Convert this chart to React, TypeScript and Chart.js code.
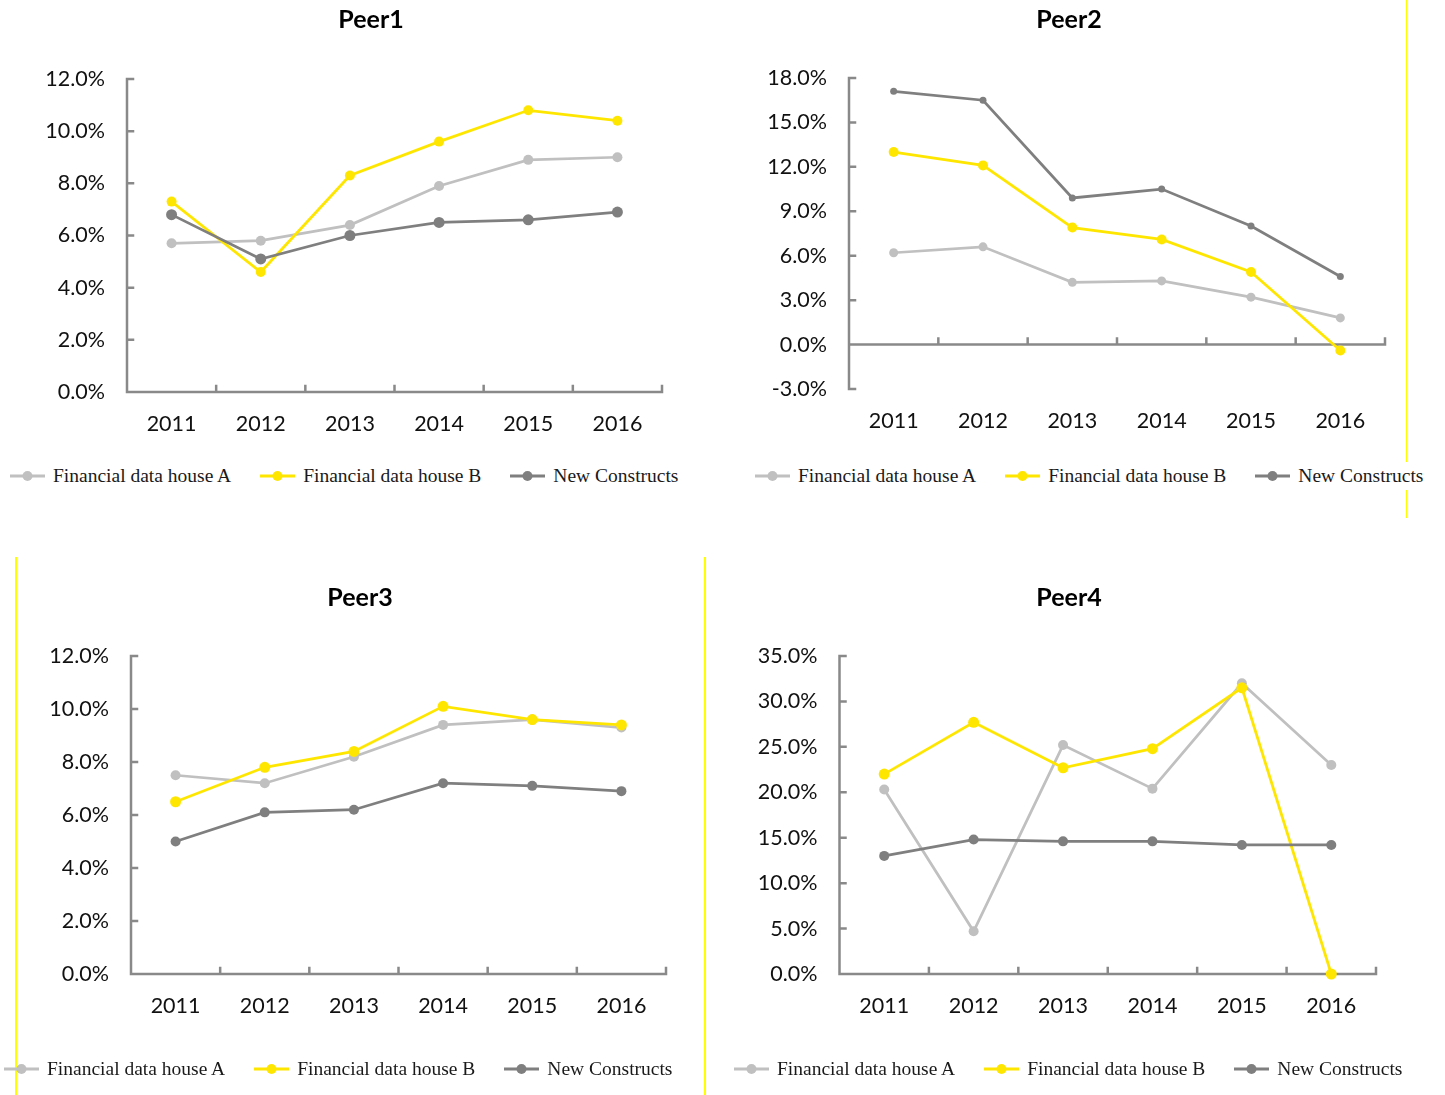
import React, { useEffect, useRef } from 'react';
import { Chart, registerables } from 'chart.js';

Chart.register(...registerables);

// ---------- data ----------
const YEARS = ['2011', '2012', '2013', '2014', '2015', '2016'];
const SERIES_NAMES = ['Financial data house A', 'Financial data house B', 'New Constructs'];
const SERIES_COLORS = ['#C0C0C0', '#FFE600', '#7F7F7F'];

const PEER1_A = [5.7, 5.8, 6.4, 7.9, 8.9, 9.0];
const PEER1_B = [7.3, 4.6, 8.3, 9.6, 10.8, 10.4];
const PEER1_NC = [6.8, 5.1, 6.0, 6.5, 6.6, 6.9];

const PEER2_A = [6.2, 6.6, 4.2, 4.3, 3.2, 1.8];
const PEER2_B = [13.0, 12.1, 7.9, 7.1, 4.9, -0.4];
const PEER2_NC = [17.1, 16.5, 9.9, 10.5, 8.0, 4.6];

const PEER3_A = [7.5, 7.2, 8.2, 9.4, 9.6, 9.3];
const PEER3_B = [6.5, 7.8, 8.4, 10.1, 9.6, 9.4];
const PEER3_NC = [5.0, 6.1, 6.2, 7.2, 7.1, 6.9];

const PEER4_A = [20.3, 4.7, 25.2, 20.4, 32.0, 23.0];
const PEER4_B = [22.0, 27.7, 22.7, 24.8, 31.5, 0.0];
const PEER4_NC = [13.0, 14.8, 14.6, 14.6, 14.2, 14.2];

const PEER_TITLES = ['Peer1', 'Peer2', 'Peer3', 'Peer4'];
const Y_MIN = [0, -3, 0, 0];
const Y_MAX = [12, 18, 12, 35];
const Y_STEP = [2, 3, 2, 5];

// ---------- styles ----------
const AXIS_COLOR = '#898989';
const AXIS_WIDTH = 2.5;
const TICK_LEN = 6;
const TICK_FONT = { family: 'Lato', size: 21.5 };
const TEXT_COLOR = '#111111';

const excelAxes = {
  id: 'excelAxes',
  beforeDatasetsDraw(chart: any) {
    const { ctx, scales } = chart;
    const x = scales.x;
    const y = scales.y;
    const ax = x.left;
    const zy = y.getPixelForValue(0);
    ctx.save();
    ctx.strokeStyle = AXIS_COLOR;
    ctx.lineWidth = AXIS_WIDTH;
    ctx.lineCap = 'square';
    ctx.beginPath();
    ctx.moveTo(ax, y.top);
    ctx.lineTo(ax, y.bottom);
    y.ticks.forEach((_: any, i: number) => {
      const py = y.getPixelForTick(i);
      ctx.moveTo(ax, py);
      ctx.lineTo(ax + TICK_LEN, py);
    });
    ctx.moveTo(x.left, zy);
    ctx.lineTo(x.right, zy);
    const n = x.ticks.length;
    const step = (x.right - x.left) / n;
    for (let i = 0; i <= n; i++) {
      const px = x.left + i * step;
      ctx.moveTo(px, zy);
      ctx.lineTo(px, zy - TICK_LEN);
    }
    ctx.stroke();
    ctx.restore();
  },
};

type Panel = {
  idx: number;
  series: number[][];
  radii: number[];
  left: number;
  top: number;
  width: number;
  height: number;
  padL: number;
  padR: number;
  yW: number;
  rW: number;
  xH: number;
  titleBottom: number;
  legendLeft: number;
  legendY: number;
  legendBg: boolean;
};

const PANELS: Panel[] = [
  { idx: 0, series: [PEER1_A, PEER1_B, PEER1_NC], radii: [5, 5, 5.5], left: 0, top: 0, width: 720, height: 450, padL: 30, padR: 8, yW: 97, rW: 50, xH: 58, titleBottom: 44, legendLeft: 10, legendY: 476, legendBg: false },
  { idx: 1, series: [PEER2_A, PEER2_B, PEER2_NC], radii: [4.5, 5, 3.5], left: 720, top: 0, width: 725, height: 450, padL: 30, padR: 57, yW: 99, rW: 3, xH: 61, titleBottom: 43, legendLeft: 755, legendY: 476, legendBg: true },
  { idx: 2, series: [PEER3_A, PEER3_B, PEER3_NC], radii: [5, 5.5, 5], left: 0, top: 578, width: 720, height: 450, padL: 30, padR: 30, yW: 101, rW: 24, xH: 54, titleBottom: 43, legendLeft: 4, legendY: 1069, legendBg: false },
  { idx: 3, series: [PEER4_A, PEER4_B, PEER4_NC], radii: [5, 5.5, 5], left: 720, top: 578, width: 725, height: 450, padL: 25, padR: 52, yW: 94.5, rW: 17, xH: 54, titleBottom: 43, legendLeft: 734, legendY: 1069, legendBg: false },
];

function PeerChart({ p }: { p: Panel }) {
  const ref = useRef<HTMLCanvasElement | null>(null);
  useEffect(() => {
    if (!ref.current) return;
    const chart = new Chart(ref.current, {
      type: 'line',
      data: {
        labels: YEARS,
        datasets: p.series.map((vals, i) => ({
          label: SERIES_NAMES[i],
          data: vals,
          borderColor: SERIES_COLORS[i],
          backgroundColor: SERIES_COLORS[i],
          pointBackgroundColor: SERIES_COLORS[i],
          pointBorderColor: SERIES_COLORS[i],
          pointRadius: p.radii[i],
          pointBorderWidth: 0,
          borderWidth: 2.75,
          tension: 0,
          clip: false as any,
          order: 2 - i,
        })),
      },
      options: {
        animation: false,
        responsive: false,
        maintainAspectRatio: false,
        events: [],
        layout: { padding: { left: p.padL, right: p.padR, top: 0, bottom: 0 } },
        plugins: {
          legend: { display: false },
          tooltip: { enabled: false },
          title: {
            display: true,
            text: PEER_TITLES[p.idx],
            color: '#000000',
            font: { family: 'Lato', size: 25, weight: 'bold' },
            padding: { top: 5, bottom: p.titleBottom },
          },
        },
        scales: {
          x: {
            type: 'category',
            offset: true,
            grid: { display: false, drawTicks: false, tickLength: 0 },
            border: { display: false },
            ticks: { font: TICK_FONT, color: TEXT_COLOR, padding: 19, autoSkip: false, maxRotation: 0 },
            afterFit: (s: any) => { s.height = p.xH; },
          },
          y: {
            min: Y_MIN[p.idx],
            max: Y_MAX[p.idx],
            grid: { display: false, drawTicks: false, tickLength: 0 },
            border: { display: false },
            ticks: {
              stepSize: Y_STEP[p.idx],
              font: TICK_FONT,
              color: TEXT_COLOR,
              padding: 22,
              callback: (v: any) => Number(v).toFixed(1) + '%',
            },
            afterFit: (s: any) => { s.width = p.yW; },
          },
          yRight: {
            type: 'linear',
            position: 'right',
            display: true,
            grid: { display: false, drawTicks: false, tickLength: 0 },
            border: { display: false },
            ticks: { display: false },
            afterFit: (s: any) => { s.width = p.rW; },
          },
        },
      },
      plugins: [excelAxes],
    });
    return () => chart.destroy();
  }, [p]);
  return (
    <canvas
      ref={ref}
      width={p.width}
      height={p.height}
      style={{ position: 'absolute', left: p.left, top: p.top, width: p.width, height: p.height }}
    />
  );
}

function Legend({ p }: { p: Panel }) {
  return (
    <div
      style={{
        position: 'absolute',
        left: p.legendLeft,
        top: p.legendY - 14,
        height: 28,
        display: 'flex',
        alignItems: 'center',
        background: p.legendBg ? '#ffffff' : 'transparent',
        paddingRight: p.legendBg ? 4 : 0,
        fontFamily: '"Liberation Serif", serif',
        fontSize: 19.5,
        color: '#1a1a1a',
        whiteSpace: 'nowrap',
        zIndex: 2,
      }}
    >
      {SERIES_NAMES.map((name, i) => (
        <div key={name} style={{ display: 'flex', alignItems: 'center', marginLeft: i === 0 ? 0 : 29 }}>
          <svg width={35} height={12} style={{ display: 'block' }}>
            <line x1={0} y1={6} x2={35} y2={6} stroke={SERIES_COLORS[i]} strokeWidth={3} />
            <circle cx={17.5} cy={6} r={5} fill={SERIES_COLORS[i]} />
          </svg>
          <span style={{ marginLeft: 8, lineHeight: '28px' }}>{name}</span>
        </div>
      ))}
    </div>
  );
}

export default function App() {
  return (
    <div
      style={{
        position: 'fixed',
        left: 0,
        top: 0,
        width: 1445,
        height: 1095,
        overflow: 'hidden',
        background: '#ffffff',
      }}
    >
      {PANELS.map((p) => (
        <PeerChart key={p.idx} p={p} />
      ))}
      <div style={{ position: 'absolute', left: 1406, top: 0, width: 1, height: 518, background: '#FFFF00', zIndex: 1 }} />
      <div style={{ position: 'absolute', left: 15, top: 557, width: 2, height: 538, background: '#FFFF00', zIndex: 1 }} />
      <div style={{ position: 'absolute', left: 704, top: 557, width: 2, height: 538, background: '#FFFF00', zIndex: 1 }} />
      {PANELS.map((p) => (
        <Legend key={'lg' + p.idx} p={p} />
      ))}
    </div>
  );
}
